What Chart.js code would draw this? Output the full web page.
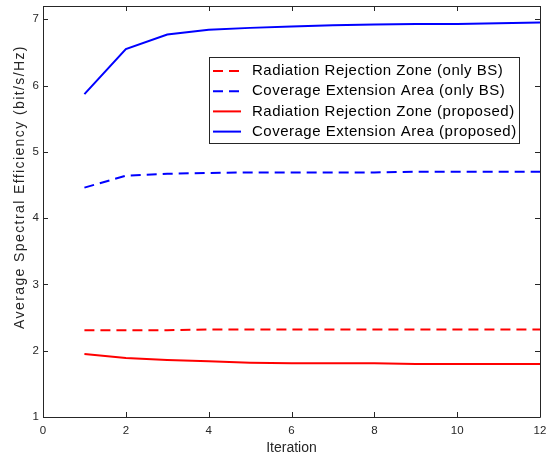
<!DOCTYPE html>
<html>
<head>
<meta charset="utf-8">
<script src="https://cdn.jsdelivr.net/npm/chart.js@4"></script>
<style>
  html, body { margin: 0; padding: 0; background: #fff; }
  #wrap { width: 555px; height: 460px; }
</style>
</head>
<body>
<div id="wrap"><canvas id="chart" width="555" height="460"></canvas></div>
<script>
const iterations = [1, 2, 3, 4, 5, 6, 7, 8, 9, 10, 11, 12];
const rrzOnlyBS = [2.31, 2.31, 2.31, 2.32, 2.32, 2.32, 2.32, 2.32, 2.32, 2.32, 2.32, 2.32];
const ceaOnlyBS = [4.46, 4.64, 4.67, 4.68, 4.69, 4.69, 4.69, 4.69, 4.70, 4.70, 4.70, 4.70];
const rrzProposed = [1.95, 1.89, 1.86, 1.84, 1.82, 1.81, 1.81, 1.81, 1.80, 1.80, 1.80, 1.80];
const ceaProposed = [5.87, 6.55, 6.77, 6.84, 6.87, 6.89, 6.91, 6.92, 6.93, 6.93, 6.94, 6.95];
const xTicks = [0, 2, 4, 6, 8, 10, 12];
const yTicks = [1, 2, 3, 4, 5, 6, 7];
const xTitle = 'Iteration';
const yTitle = 'Average Spectral Efficiency (bit/s/Hz)';

const FONT = "'Liberation Sans', Arial, Helvetica, sans-serif";
const toXY = (ys) => ys.map((y, i) => ({ x: iterations[i], y: y }));

// box around the axes, MATLAB style inward ticks on all sides, axis titles
const boxPlugin = {
    id: 'box',
    afterDatasetsDraw(chart) {
        const { ctx, chartArea: a, scales } = chart;
        ctx.save();
        ctx.strokeStyle = '#262626';
        ctx.lineWidth = 1;
        ctx.beginPath();
        ctx.rect(a.left + 0.5, a.top + 0.5, a.right - a.left, a.bottom - a.top);
        xTicks.forEach(v => {
            const px = Math.round(scales.x.getPixelForValue(v)) + 0.5;
            ctx.moveTo(px, a.bottom); ctx.lineTo(px, a.bottom - 5);
            ctx.moveTo(px, a.top); ctx.lineTo(px, a.top + 5);
        });
        yTicks.forEach(v => {
            const py = Math.round(scales.y.getPixelForValue(v)) + 0.5;
            ctx.moveTo(a.left, py); ctx.lineTo(a.left + 5, py);
            ctx.moveTo(a.right, py); ctx.lineTo(a.right - 5, py);
        });
        ctx.stroke();

        ctx.fillStyle = '#262626';
        ctx.textAlign = 'center';
        ctx.textBaseline = 'middle';
        ctx.font = '14px ' + FONT;
        ctx.fillText(xTitle, (a.left + a.right) / 2, 448);
        ctx.translate(20, 187);
        ctx.rotate(-Math.PI / 2);
        if ('letterSpacing' in ctx) ctx.letterSpacing = '1.4px';
        ctx.fillText(yTitle, 0, 0);
        ctx.restore();
    }
};

// legend box drawn inside the axes, top right
const legendPlugin = {
    id: 'innerLegend',
    afterDraw(chart) {
        const { ctx } = chart;
        const x0 = 209, y0 = 57, w = 310, h = 86;
        ctx.save();
        ctx.fillStyle = '#fff';
        ctx.fillRect(x0, y0, w, h);
        ctx.strokeStyle = '#262626';
        ctx.lineWidth = 1;
        ctx.strokeRect(x0 + 0.5, y0 + 0.5, w, h);
        ctx.font = '15px ' + FONT;
        if ('letterSpacing' in ctx) ctx.letterSpacing = '0.5px';
        ctx.textBaseline = 'middle';
        chart.data.datasets.forEach((ds, i) => {
            const y = y0 + 14 + i * 20.2;
            ctx.strokeStyle = ds.borderColor;
            ctx.lineWidth = 2;
            ctx.setLineDash(ds.borderDash || []);
            ctx.beginPath();
            ctx.moveTo(x0 + 4, y); ctx.lineTo(x0 + 32, y);
            ctx.stroke();
            ctx.setLineDash([]);
            ctx.fillStyle = '#000';
            ctx.fillText(ds.label, x0 + 43, y);
        });
        ctx.restore();
    }
};

new Chart(document.getElementById('chart'), {
    type: 'line',
    data: {
        datasets: [
            { label: 'Radiation Rejection Zone (only BS)', data: toXY(rrzOnlyBS), borderColor: '#ff0000', borderDash: [10, 6] },
            { label: 'Coverage Extension Area (only BS)', data: toXY(ceaOnlyBS), borderColor: '#0000ff', borderDash: [10, 6] },
            { label: 'Radiation Rejection Zone (proposed)', data: toXY(rrzProposed), borderColor: '#ff0000' },
            { label: 'Coverage Extension Area (proposed)', data: toXY(ceaProposed), borderColor: '#0000ff' }
        ]
    },
    options: {
        responsive: false,
        animation: false,
        devicePixelRatio: 1,
        elements: {
            line: { borderWidth: 2, tension: 0, fill: false },
            point: { radius: 0 }
        },
        layout: { padding: { top: 6, right: 15, left: 0, bottom: 0 } },
        plugins: {
            legend: { display: false },
            tooltip: { enabled: false }
        },
        scales: {
            x: {
                type: 'linear',
                min: 0,
                max: 12,
                grid: { display: false, drawTicks: false, tickLength: 0 },
                border: { display: false },
                afterBuildTicks: (s) => { s.ticks = xTicks.map(v => ({ value: v })); },
                afterFit: (s) => { s.height = 43; s.paddingLeft = 0; s.paddingRight = 0; },
                ticks: { color: '#262626', font: { family: FONT, size: 11.5 }, padding: 7, maxRotation: 0 }
            },
            y: {
                type: 'linear',
                min: 1,
                max: 7.2,
                grid: { display: false, drawTicks: false, tickLength: 0 },
                border: { display: false },
                afterBuildTicks: (s) => { s.ticks = yTicks.map(v => ({ value: v })); },
                afterFit: (s) => { s.width = 43; s.paddingTop = 0; s.paddingBottom = 0; },
                ticks: { color: '#262626', font: { family: FONT, size: 11.5 }, padding: 4 }
            }
        }
    },
    plugins: [boxPlugin, legendPlugin]
});
</script>
</body>
</html>
